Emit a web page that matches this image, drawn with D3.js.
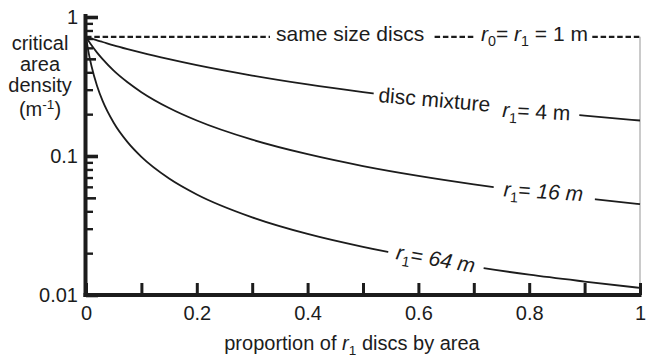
<!DOCTYPE html>
<html><head><meta charset="utf-8">
<script src="https://cdn.jsdelivr.net/npm/d3@7"></script>
<style>
body{margin:0;background:#fff}
svg{display:block;font-family:"Liberation Sans",Arial,Helvetica,sans-serif}
</style></head><body>
<svg id="chart" width="665" height="357"></svg>
<script>
// proportion of r1 discs by area (x)
const proportion = [0, 0.005, 0.01, 0.02, 0.03, 0.05, 0.075, 0.1, 0.15, 0.2, 0.3, 0.4, 0.5, 0.6, 0.7, 0.8, 0.9, 1];
// critical area density (m^-1) for disc mixtures with r0 = 1 m
const mixR4  = [0.72, 0.709, 0.699, 0.679, 0.661, 0.626, 0.588, 0.554, 0.497, 0.45, 0.379, 0.327, 0.288, 0.257, 0.232, 0.212, 0.195, 0.18];
const mixR16 = [0.72, 0.670, 0.626, 0.554, 0.497, 0.411, 0.339, 0.288, 0.2215, 0.18, 0.131, 0.103, 0.0847, 0.072, 0.0626, 0.0554, 0.0497, 0.045];
const mixR64 = [0.72, 0.548, 0.442, 0.319, 0.249, 0.1735, 0.1258, 0.0986, 0.0689, 0.0529, 0.0362, 0.0275, 0.0222, 0.0186, 0.016, 0.014, 0.0125, 0.01125];
// same size discs r0 = r1 = 1 m
const sameSize = 0.72;

const xTicks = [0, 0.1, 0.2, 0.3, 0.4, 0.5, 0.6, 0.7, 0.8, 0.9, 1];
const xTickLabels = ["0", "", "0.2", "", "0.4", "", "0.6", "", "0.8", "", "1"];
const yMajor = [1, 0.1, 0.01];
const yMajorLabels = ["1", "0.1", "0.01"];
const yMid = [0.5, 0.05];
const yMinor = [0.9, 0.8, 0.7, 0.6, 0.4, 0.3, 0.2, 0.09, 0.08, 0.07, 0.06, 0.04, 0.03, 0.02];

const ink = "#1c1c1c";
const svg = d3.select("#chart");
const x = d3.scaleLinear().domain([0, 1]).range([86, 640]);
const y = d3.scaleLog().domain([0.01, 1]).range([295, 17]);

// rich text helper: parts are {t, i (italic), sub, sup}
function rich(sel, parts, size) {
  let shift = 0;
  parts.forEach(p => {
    const ts = sel.append("tspan").text(p.t);
    let want = p.sub ? size * 0.26 : p.sup ? -size * 0.36 : 0;
    if (want !== shift) { ts.attr("dy", want - shift); shift = want; }
    if (p.i) ts.attr("font-style", "italic");
    if (p.sub || p.sup) ts.attr("font-size", size * 0.68);
  });
  return sel;
}

// right edge guide
svg.append("line")
  .attr("x1", x(1)).attr("x2", x(1))
  .attr("y1", y(sameSize)).attr("y2", y(0.01) - 2)
  .attr("stroke", "#bdbdbd").attr("stroke-width", 1.6);

// same-size reference (dashed)
svg.append("line")
  .attr("x1", x(0)).attr("x2", x(1))
  .attr("y1", y(sameSize)).attr("y2", y(sameSize))
  .attr("stroke", ink).attr("stroke-width", 2.2)
  .attr("stroke-dasharray", "5.5,2.8");

// mixture curves
const line = d3.line()
  .x((d, i) => x(proportion[i]))
  .y(d => y(d))
  .curve(d3.curveMonotoneX);
const seriesList = [mixR4, mixR16, mixR64];
svg.append("g").selectAll("path").data(seriesList).join("path")
  .attr("d", line)
  .attr("fill", "none").attr("stroke", ink).attr("stroke-width", 1.8);

// value of a series at p (log-linear between points)
function valueAt(s, p) {
  for (let i = 1; i < proportion.length; i++) {
    if (p <= proportion[i]) {
      const t = (p - proportion[i - 1]) / (proportion[i] - proportion[i - 1]);
      return Math.exp(Math.log(s[i - 1]) * (1 - t) + Math.log(s[i]) * t);
    }
  }
  return s[s.length - 1];
}

// label with a white backing that breaks the line underneath
function label(px, py, angle, parts, size, padL, padR) {
  const g = svg.append("g").attr("transform", `translate(${px},${py}) rotate(${angle})`);
  const bg = g.append("rect").attr("fill", "#fff");
  const t = g.append("text").attr("font-size", size).attr("fill", ink);
  rich(t, parts, size);
  const b = t.node().getBBox();
  bg.attr("x", b.x - padL).attr("y", b.y - 2).attr("width", b.width + padL + padR).attr("height", b.height + 4);
}

const annSize = 21;
const curveLabels = [
  { s: mixR4,  p: 0.527, dy: 8, angle: 5,   padL: 5, padR: 12, parts: [{ t: "disc mixture" }] },
  { s: mixR4,  p: 0.751, dy: 9, angle: 3,   padL: 5, padR: 9, parts: [{ t: "r", i: 1 }, { t: "1", sub: 1 }, { t: "= 4 m" }] },
  { s: mixR16, p: 0.753, dy: 8, angle: 3.5, padL: 10, padR: 12, parts: [{ t: "r", i: 1 }, { t: "1", sub: 1 }, { t: "= " }, { t: "16 m", i: 1 }] },
  { s: mixR64, p: 0.558, dy: 6, angle: 10,  padL: 8, padR: 9, parts: [{ t: "r", i: 1 }, { t: "1", sub: 1 }, { t: "= " }, { t: "64 m", i: 1 }] }
];
curveLabels.forEach(l => label(x(l.p), y(valueAt(l.s, l.p)) + l.dy, l.angle, l.parts, annSize, l.padL, l.padR));

// labels on the dashed reference
label(276, y(sameSize) + 4, 0, [{ t: "same size discs" }], annSize, 6, 8);
label(481, y(sameSize) + 4, 0, [{ t: "r", i: 1 }, { t: "0", sub: 1 }, { t: "= " }, { t: "r", i: 1 }, { t: "1", sub: 1 }, { t: " = 1 m" }], annSize, 5, 4);

// y axis: minor, mid and major ticks pointing inward
const axisStyle = g => {
  g.selectAll(".domain").remove();
  g.selectAll(".tick line").attr("stroke", ink);
  g.selectAll(".tick text").attr("fill", ink).attr("font-size", 20).attr("font-family", "Liberation Sans, Arial, sans-serif");
};
svg.append("g").attr("transform", `translate(${x(0)},0)`)
  .call(d3.axisRight(y).tickValues(yMinor).tickSize(7).tickFormat(""))
  .call(axisStyle).selectAll(".tick line").attr("stroke-width", 2.4);
svg.append("g").attr("transform", `translate(${x(0)},0)`)
  .call(d3.axisRight(y).tickValues(yMid).tickSize(10).tickFormat(""))
  .call(axisStyle).selectAll(".tick line").attr("stroke-width", 2.6);
svg.append("g").attr("transform", `translate(${x(0)},0)`)
  .call(d3.axisLeft(y).tickValues(yMajor).tickSize(-12).tickPadding(8).tickFormat((d, i) => yMajorLabels[i]))
  .call(axisStyle).selectAll(".tick line").attr("stroke-width", 3.6);

// x axis
svg.append("g").attr("transform", `translate(0,${y(0.01)})`)
  .call(d3.axisBottom(x).tickValues(xTicks).tickSize(-12).tickPadding(11).tickFormat((d, i) => xTickLabels[i]))
  .call(axisStyle).selectAll(".tick line").attr("stroke-width", 3);

// axis lines
svg.append("line").attr("x1", x(0) - 0.5).attr("x2", x(0) - 0.5).attr("y1", 14).attr("y2", y(0.01) + 2)
  .attr("stroke", ink).attr("stroke-width", 4);
svg.append("line").attr("x1", x(0) - 2.5).attr("x2", x(1) + 1.5).attr("y1", y(0.01)).attr("y2", y(0.01))
  .attr("stroke", ink).attr("stroke-width", 4);

// axis titles
const yTitle = svg.append("text").attr("font-size", 20).attr("fill", ink).attr("text-anchor", "middle");
[["critical"], ["area"], ["density"]].forEach((l, i) =>
  yTitle.append("tspan").attr("x", 40).attr("y", 50 + i * 21).text(l[0]));
const unit = svg.append("text").attr("font-size", 20).attr("fill", ink).attr("text-anchor", "middle")
  .attr("x", 40).attr("y", 116);
rich(unit, [{ t: "(m" }, { t: "-1", sup: 1 }, { t: ")" }], 20);

const xTitle = svg.append("text").attr("font-size", 20).attr("fill", ink).attr("text-anchor", "middle")
  .attr("x", 352).attr("y", 350);
rich(xTitle, [{ t: "proportion of " }, { t: "r", i: 1 }, { t: "1", sub: 1 }, { t: " discs by area" }], 20);
</script>
</body></html>
